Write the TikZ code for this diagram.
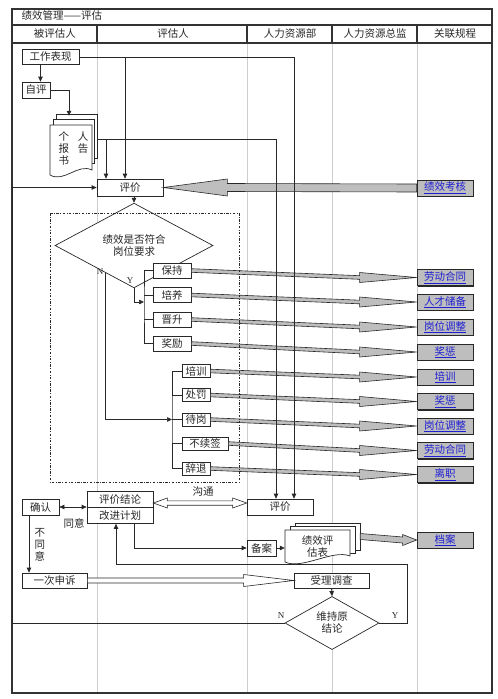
\documentclass[tikz,border=0pt]{standalone}
\usepackage{fontspec}
\setmainfont{Noto Sans CJK SC}
\newfontfamily\ynfont{Liberation Serif}
\usetikzlibrary{arrows.meta,shapes.geometric,calc,shadows}
\definecolor{lanegray}{RGB}{205,205,205}
\definecolor{linkgray}{RGB}{190,190,190}
\definecolor{linkblue}{RGB}{30,30,210}
\definecolor{inkgray}{RGB}{40,40,40}

\begin{document}
\begin{tikzpicture}[x=1pt,y=-1pt,
    font=\fontsize{10.5}{12}\selectfont,
    frame_line/.style={black!80,line width=1.3pt},
    lane_line/.style={lanegray,line width=0.7pt},
    head_text/.style={text=inkgray},
    step_box/.style={draw=inkgray,fill=white,line width=0.7pt,minimum height=15pt,inner sep=1pt,text=inkgray},
    link_box/.style={draw=inkgray,fill=linkgray,line width=0.7pt,minimum width=56pt,minimum height=16pt,inner sep=1pt,text=linkblue,
      drop shadow={shadow xshift=1.2pt,shadow yshift=-1.2pt,fill=inkgray,opacity=1}},
    choice_node/.style={diamond,draw=inkgray,fill=white,line width=0.7pt,inner sep=0pt,align=center,text=inkgray},
    doc_page/.style={draw=inkgray,fill=white,line width=0.7pt},
    yn_label/.style={font=\ynfont\fontsize{9}{10}\selectfont,text=inkgray},
    side_label/.style={text=inkgray,align=center},
    flow_edge/.style={inkgray,line width=0.7pt,-{Triangle[length=5pt,width=4.5pt]}},
    both_edge/.style={inkgray,line width=0.7pt,{Triangle[length=5pt,width=4.5pt]}-{Triangle[length=5pt,width=4.5pt]}},
    plain_edge/.style={inkgray,line width=0.7pt},
    group_frame/.style={inkgray,line width=0.7pt,dash pattern=on 2.5pt off 1.5pt on 0.8pt off 1.5pt},
    fat_link/.style n args={4}{fill=#4,draw=inkgray,line width=0.6pt,to path={
      let \p1=(\tikztostart),\p2=(\tikztotarget),\n1={(\x2-\x1)/abs(\x2-\x1)} in
      ({\x1},{\y1+#1}) -- ({\x2-(\n1)*#2},{\y2+#1}) -- ({\x2-(\n1)*#2},{\y2+#3}) -- (\p2)
      -- ({\x2-(\n1)*#2},{\y2-#3}) -- ({\x2-(\n1)*#2},{\y2-#1}) -- ({\x1},{\y1-#1}) -- cycle (\p2)}},
    fat_link_both/.style n args={3}{fill=white,draw=inkgray,line width=0.6pt,to path={
      let \p1=(\tikztostart),\p2=(\tikztotarget),\n1={(\x2-\x1)/abs(\x2-\x1)} in
      (\p1) -- ({\x1+(\n1)*#2},{\y1+#3}) -- ({\x1+(\n1)*#2},{\y1+#1}) -- ({\x2-(\n1)*#2},{\y2+#1})
      -- ({\x2-(\n1)*#2},{\y2+#3}) -- (\p2) -- ({\x2-(\n1)*#2},{\y2-#3}) -- ({\x2-(\n1)*#2},{\y2-#1})
      -- ({\x1+(\n1)*#2},{\y1-#1}) -- ({\x1+(\n1)*#2},{\y1-#3}) -- cycle (\p2)}}]
\useasboundingbox (0,0) rectangle (498,699);
\foreach \x in {97,247,332,417}
  \draw[lane_line] (\x,43) -- (\x,693);
\draw[frame_line] (12,9) rectangle (492,693);
\draw[frame_line] (12,25) -- (492,25);
\draw[frame_line] (12,43) -- (492,43);
\foreach \x in {97,247,332,417}
  \draw[frame_line] (\x,25) -- (\x,43);
\node[head_text,anchor=west] (title) at (18,16) {绩效管理——评估};
\node[head_text] (lane_a) at (55,34) {被评估人};
\node[head_text] (lane_b) at (173,34) {评估人};
\node[head_text] (lane_c) at (290,34) {人力资源部};
\node[head_text] (lane_d) at (375,34) {人力资源总监};
\node[head_text] (lane_e) at (455,34) {关联规程};

\node[step_box,minimum width=57pt] (perf) at (50.5,57) {工作表现};
\node[step_box,minimum width=28pt,minimum height=16pt] (self_eval) at (36,90) {自评};
\draw[doc_page] (56,114) rectangle (97,158);
\draw[doc_page] (53,119.5) rectangle (94.5,163);
\draw[doc_page] (50,125) -- (92,125) -- (92,170) .. controls (78,163) and (64,183) .. (50,175) -- cycle;
\node[align=left,minimum width=47pt,minimum height=64pt,inner sep=0pt,text=inkgray] (report) at (73.5,148) {个\hspace{9pt}人\\报\hspace{9pt}告\\书};
\node[step_box,minimum width=66pt,minimum height=17pt] (eval_a) at (130,187.5) {评价};
\node[link_box] (kpi) at (445,188) {\underline{绩效考核}};
\node[choice_node,minimum width=158pt,minimum height=47pt] (judge) at (134,245.5) {绩效是否符合\\岗位要求};
\node[step_box,minimum width=38pt] (keep) at (172,270.5) {保持};
\node[step_box,minimum width=38pt] (foster) at (172,295) {培养};
\node[step_box,minimum width=38pt] (promote) at (172,319.5) {晋升};
\node[step_box,minimum width=38pt] (reward) at (172,343.5) {奖励};
\node[step_box,minimum width=28pt,minimum height=13pt] (train) at (196,371) {培训};
\node[step_box,minimum width=28pt,minimum height=13pt] (punish) at (196,395) {处罚};
\node[step_box,minimum width=28pt,minimum height=13pt] (standby) at (196,419.5) {待岗};
\node[step_box,minimum width=46pt,minimum height=13pt] (no_renew) at (205,443.5) {不续签};
\node[step_box,minimum width=28pt,minimum height=13pt] (dismiss) at (196,468.5) {辞退};
\node[link_box] (law_a) at (445,277.5) {\underline{劳动合同}};
\node[link_box] (talent) at (445,302) {\underline{人才储备}};
\node[link_box] (post_a) at (445,327) {\underline{岗位调整}};
\node[link_box] (bonus_a) at (445,352) {\underline{奖惩}};
\node[link_box] (train_doc) at (445,377) {\underline{培训}};
\node[link_box] (bonus_b) at (445,401.5) {\underline{奖惩}};
\node[link_box] (post_b) at (445,426) {\underline{岗位调整}};
\node[link_box] (law_b) at (445,450.5) {\underline{劳动合同}};
\node[link_box] (leave) at (445,474.5) {\underline{离职}};
\node[yn_label] (y_a) at (130,281) {Y};
\node[yn_label] (n_a) at (100,272) {N};

\node[step_box,minimum width=37pt,minimum height=16pt] (confirm) at (40.5,507) {确认};
\node[step_box,minimum width=66pt,minimum height=17pt] (concl) at (120,499.5) {评价结论};
\node[step_box,minimum width=66pt,minimum height=16pt] (plan) at (120,515.5) {改进计划};
\node[step_box,minimum width=65pt] (appeal) at (54.5,580.5) {一次申诉};
\node[step_box,minimum width=66pt,minimum height=16pt] (eval_b) at (280,507) {评价};
\node[step_box,minimum width=29pt,minimum height=16pt] (file) at (261.5,548) {备案};
\draw[doc_page] (295,523) rectangle (360,550);
\draw[doc_page] (290,526.5) rectangle (355,553);
\draw[doc_page] (285,530) -- (350,530) -- (350,556) .. controls (333,549) and (302,570) .. (285,562) -- cycle;
\node[align=center,minimum width=65pt,minimum height=32pt,inner sep=0pt,text=inkgray] (form) at (317.5,546) {绩效评\\估表};
\node[link_box] (archive) at (445,540) {\underline{档案}};
\node[step_box,minimum width=75pt] (accept) at (331.5,580.5) {受理调查};
\node[choice_node,minimum width=94pt,minimum height=42pt] (recheck) at (332,623) {维持原\\结论};
\node[side_label] (agree) at (74,523) {同意};
\node[side_label,anchor=west] (disagree) at (31,545) {不\\同\\意};
\node[side_label] (talk) at (203,492) {沟通};
\node[yn_label] (n_b) at (281,616) {N};
\node[yn_label] (y_b) at (395,616) {Y};

\draw[fat_link={4pt}{64pt}{8.5pt}{linkgray}] (kpi.west) to (eval_a.east);
\foreach \src/\dst in {keep/law_a,foster/talent,promote/post_a,reward/bonus_a,train/train_doc,punish/bonus_b,standby/post_b,no_renew/law_b,dismiss/leave}
  \draw[fat_link={1.8pt}{57pt}{5pt}{linkgray}] (\src.east) to (\dst.west);
\draw[fat_link={3pt}{14pt}{5.5pt}{linkgray}] ([xshift=10pt,yshift=9.5pt]form.east) to (archive.west);
\draw[fat_link={2.5pt}{50pt}{6pt}{white}] (appeal.east) to (accept.west);
\draw[fat_link_both={2.2pt}{14pt}{5pt}] ([yshift=-3.5pt]concl.east) to ([yshift=4pt]eval_b.west);
\draw[group_frame] (50,213) rectangle (239,482);

\coordinate (perf_out) at ([xshift=-10pt]perf.south);
\coordinate (rpt_in) at ([xshift=-4.5pt]report.north);
\coordinate (rpt_out) at ([yshift=9pt]report.east);
\coordinate (ea_l) at ([xshift=-24pt]eval_a.north);
\coordinate (ea_r) at ([xshift=-5pt]eval_a.north);
\coordinate (eb_l) at ([xshift=-4pt]eval_b.north);
\coordinate (eb_r) at ([xshift=14pt]eval_b.north);
\coordinate (bus_a) at (144,302);
\coordinate (bus_b) at (172,419.5);
\coordinate (cf_out) at ([xshift=-11.5pt]confirm.south);
\coordinate (plan_out) at ([xshift=14pt]plan.south);
\coordinate (plan_in) at ([xshift=-4pt]plan.south);
\coordinate (frame_left) at (12,0);
\coordinate (loop_r) at (407,564);
\draw[flow_edge] (perf_out) -- (perf_out |- self_eval.north);
\draw[flow_edge] (self_eval.east) -| (rpt_in);
\draw[flow_edge] (perf.east) -| (eb_r);
\draw[flow_edge] (ea_r |- perf.east) -- (ea_r);
\draw[flow_edge] (rpt_out) -| (eb_l);
\draw[flow_edge] (ea_l |- rpt_out) -- (ea_l);
\draw[flow_edge] (eval_a.south -| judge.north) -- (judge.north);
\draw[flow_edge] (judge.south) |- (bus_a);
\draw[plain_edge] (keep.west) -| (bus_a) |- (reward.west);
\draw[plain_edge] (foster.west) -- (foster.west -| bus_a);
\draw[plain_edge] (promote.west) -- (promote.west -| bus_a);
\draw[flow_edge] ($(judge.west)!0.645!(judge.south)$) |- (bus_b);
\draw[plain_edge] (train.west) -| (bus_b) |- (dismiss.west);
\draw[plain_edge] (punish.west) -- (punish.west -| bus_b);
\draw[plain_edge] (standby.west) -- (standby.west -| bus_b);
\draw[plain_edge] (no_renew.west) -- (no_renew.west -| bus_b);
\draw[both_edge] (confirm.east) -- (confirm.east -| concl.west);
\draw[flow_edge] (cf_out) -- (cf_out |- appeal.north);
\draw[flow_edge] (plan_out) |- (file.west);
\draw[flow_edge] (file.east) -- (file.east -| form.west);
\draw[flow_edge] (accept.south) -- (recheck.north);
\draw[flow_edge] (recheck.west) -- (recheck.west -| frame_left) |- (eval_a.west);
\draw[flow_edge] (recheck.east) -| (loop_r) -| (plan_in);
\end{tikzpicture}
\end{document}
